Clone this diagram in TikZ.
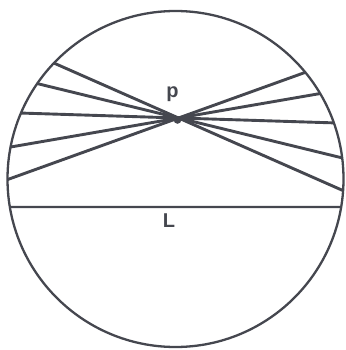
\documentclass[tikz,border=0pt]{standalone}
\usepackage{fontspec}
\setmainfont{Liberation Sans}
\usetikzlibrary{intersections,calc}
\definecolor{ink}{HTML}{45474F}
\tikzset{
  rim/.style={draw=ink, line width=2.3pt},
  chord/.style={draw=ink, line width=2.9pt},
  lbl/.style={inner sep=0pt, text=ink, font=\bfseries\fontsize{20}{20}\selectfont},
}
\begin{document}
\begin{tikzpicture}[x=1pt,y=-1pt]
\useasboundingbox (0,0) rectangle (345,350);
\coordinate (c) at (175.5,179);
\coordinate (p) at (178.5,118);
\path[rim, name path=circ] (c) circle[radius=168pt];
\foreach \i/\a in {1/23.8,2/13.7,3/1.8,4/-9.8,5/-19.8}{
  \path[name path=l\i] ($(p)+(\a:-260)$) -- ($(p)+(\a:260)$);
  \path[name intersections={of=circ and l\i, by={a\i,b\i}}];
  \draw[chord] (a\i) -- (b\i);
}
\path[name path=lline] (0,207) -- (345,207);
\path[name intersections={of=circ and lline, by={la,lb}}];
\draw[rim] (la) -- (lb);
\fill[ink] (p) ++(-1,2) circle[radius=3.8pt];
\node[lbl] (plabel) at (172.5,94.5) {p};
\node[lbl] (llabel) at (169,220.5) {L};
\end{tikzpicture}
\end{document}
